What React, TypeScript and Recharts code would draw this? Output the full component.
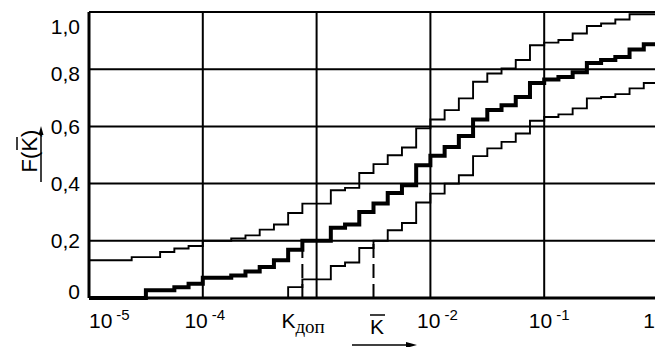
import { LineChart, Line, XAxis, YAxis, ReferenceLine } from "recharts";

// step edges, log10(K), one every 1/8 decade
const binExp = [
  -5, -4.875, -4.75, -4.625, -4.5, -4.375, -4.25, -4.125,
  -4, -3.875, -3.75, -3.625, -3.5, -3.375, -3.25, -3.125,
  -3, -2.875, -2.75, -2.625, -2.5, -2.375, -2.25, -2.125,
  -2, -1.875, -1.75, -1.625, -1.5, -1.375, -1.25, -1.125,
  -1, -0.875, -0.75, -0.625, -0.5, -0.375, -0.25, -0.125, 0,
];

const upperF = [
  0.132, 0.132, 0.132, 0.143, 0.143, 0.161, 0.173, 0.182,
  0.2, 0.2, 0.208, 0.219, 0.239, 0.257, 0.297, 0.33,
  0.33, 0.377, 0.385, 0.437, 0.468, 0.499, 0.526, 0.593,
  0.624, 0.657, 0.698, 0.756, 0.785, 0.803, 0.832, 0.884,
  0.893, 0.902, 0.925, 0.951, 0.96, 0.974, 0.992, 0.992, 0.992,
];

const middleF = [
  0, 0, 0, 0, 0.027, 0.027, 0.038, 0.05,
  0.071, 0.071, 0.079, 0.093, 0.108, 0.132, 0.169, 0.2,
  0.2, 0.246, 0.257, 0.301, 0.33, 0.367, 0.394, 0.464,
  0.497, 0.528, 0.566, 0.624, 0.657, 0.674, 0.703, 0.752,
  0.764, 0.773, 0.789, 0.822, 0.832, 0.843, 0.869, 0.887, 0.887,
];

const lowerF = [
  0, 0, 0, 0, 0, 0, 0, 0,
  0, 0, 0, 0, 0, 0, 0.038, 0.065,
  0.065, 0.112, 0.124, 0.175, 0.2, 0.237, 0.262, 0.334,
  0.365, 0.4, 0.429, 0.496, 0.523, 0.546, 0.575, 0.62,
  0.633, 0.642, 0.663, 0.698, 0.703, 0.713, 0.733, 0.752, 0.752,
];

const kDopExp = -3.125;
const kLowExp = -2.5;

const xGrid = [1e-4, 1e-3, 1e-2, 1e-1, 1];
const yGrid = [0.2, 0.4, 0.6, 0.8, 1.0];
const yTicks = [0, 0.2, 0.4, 0.6, 0.8, 1.0];
const yTickLabels = ["0", "0,2", "0,4", "0,6", "0,8", "1,0"];

const K_DOP = Math.pow(10, kDopExp);
const K_LOW = Math.pow(10, kLowExp);
const xTicks = [1e-5, 1e-4, K_DOP, 1e-2, 1e-1, 1];
const xTickMain = ["10", "10", "K", "10", "10", "1"];
const xTickSup = ["-5", "-4", "", "-2", "-1", ""];

const rows = binExp.map((e, i) => ({
  x: Math.pow(10, e),
  upper: upperF[i],
  middle: middleF[i],
  lower: lowerF[i],
}));

const FONT = "'Liberation Sans', Arial, sans-serif";

function XTick(props: any) {
  const { x, y, index } = props;
  const base = y + 30;
  if (index === 2) {
    return (
      <text x={x - 21} y={base} textAnchor="start" fontFamily={FONT} fontSize={21} fill="#000">
        K
        <tspan dy={5} fontFamily="'Liberation Serif', 'Times New Roman', serif" fontSize={19}>
          доп
        </tspan>
      </text>
    );
  }
  const shift = [0, 2, 0, 7, 5, -9][index];
  const anchor = index === 0 ? "start" : "middle";
  return (
    <text x={x + shift} y={base} textAnchor={anchor} fontFamily={FONT} fontSize={21} fill="#000">
      {xTickMain[index]}
      {xTickSup[index] && (
        <tspan dx={4} dy={-8} fontSize={15}>
          {xTickSup[index]}
        </tspan>
      )}
    </text>
  );
}

function YTick(props: any) {
  const { x, y, payload } = props;
  const i = yTicks.indexOf(payload.value);
  const nudge = payload.value === 1 ? 14 : payload.value === 0 ? -7 : payload.value === 0.8 ? 4 : 0;
  return (
    <text x={x} y={y + nudge} dy="0.36em" textAnchor="end" fontFamily={FONT} fontSize={21} fill="#000">
      {yTickLabels[i]}
    </text>
  );
}

export default function App() {
  return (
    <div style={{ position: "relative", width: 655, height: 347, overflow: "hidden", background: "#fff" }}>
      <style>{"body{margin:0}"}</style>
      <LineChart width={662} height={347} data={rows} margin={{ top: 12, right: 4, bottom: 0, left: 9 }}>
        <XAxis
          dataKey="x"
          type="number"
          scale="log"
          domain={[1e-5, 1]}
          ticks={xTicks}
          interval={0}
          height={49}
          tickLine={false}
          tickSize={0}
          tickMargin={0}
          axisLine={{ stroke: "#000", strokeWidth: 3 }}
          tick={<XTick />}
          allowDataOverflow
        />
        <YAxis
          type="number"
          domain={[0, 1]}
          ticks={yTicks}
          interval={0}
          width={80}
          tickLine={false}
          tickSize={0}
          tickMargin={9}
          axisLine={{ stroke: "#000", strokeWidth: 3 }}
          tick={<YTick />}
        />
        {xGrid.map((v) => (
          <ReferenceLine key={"gx" + v} x={v} stroke="#000" strokeWidth={2} />
        ))}
        {yGrid.map((v) => (
          <ReferenceLine key={"gy" + v} y={v} stroke="#000" strokeWidth={2} />
        ))}
        <ReferenceLine
          segment={[{ x: K_DOP, y: 0 }, { x: K_DOP, y: 0.2 }]}
          stroke="#000"
          strokeWidth={2}
          strokeDasharray="14 6"
        />
        <ReferenceLine
          segment={[{ x: K_LOW, y: 0 }, { x: K_LOW, y: 0.2 }]}
          stroke="#000"
          strokeWidth={2}
          strokeDasharray="14 6"
        />
        <Line type="stepAfter" dataKey="upper" stroke="#000" strokeWidth={1.9} dot={false} isAnimationActive={false} />
        <Line type="stepAfter" dataKey="lower" stroke="#000" strokeWidth={1.9} dot={false} isAnimationActive={false} />
        <Line type="stepAfter" dataKey="middle" stroke="#000" strokeWidth={4} dot={false} isAnimationActive={false} />
      </LineChart>
      <svg
        width={655}
        height={347}
        style={{ position: "absolute", left: 0, top: 0, pointerEvents: "none" }}
      >
        {/* y title */}
        <g transform="translate(37,151) rotate(-90)">
          <text x={0} y={0} textAnchor="middle" fontFamily={FONT} fontSize={22} fill="#000">
            F(K)
          </text>
          <line x1={1} x2={14} y1={-20} y2={-20} stroke="#000" strokeWidth={1.5} />
        </g>
        <line x1={41} x2={41} y1={182} y2={132} stroke="#000" strokeWidth={1.5} />
        <polygon points="41,126 38.5,135 43.5,135" fill="#000" />
        {/* x title */}
        <text x={377} y={334} textAnchor="middle" fontFamily={FONT} fontSize={21} fill="#000">
          K
        </text>
        <line x1={370} x2={385} y1={315} y2={315} stroke="#000" strokeWidth={1.5} />
        <line x1={352} x2={412} y1={345} y2={345} stroke="#000" strokeWidth={1.5} />
        <polygon points="417,345 406,342 406,348" fill="#000" />
      </svg>
    </div>
  );
}
